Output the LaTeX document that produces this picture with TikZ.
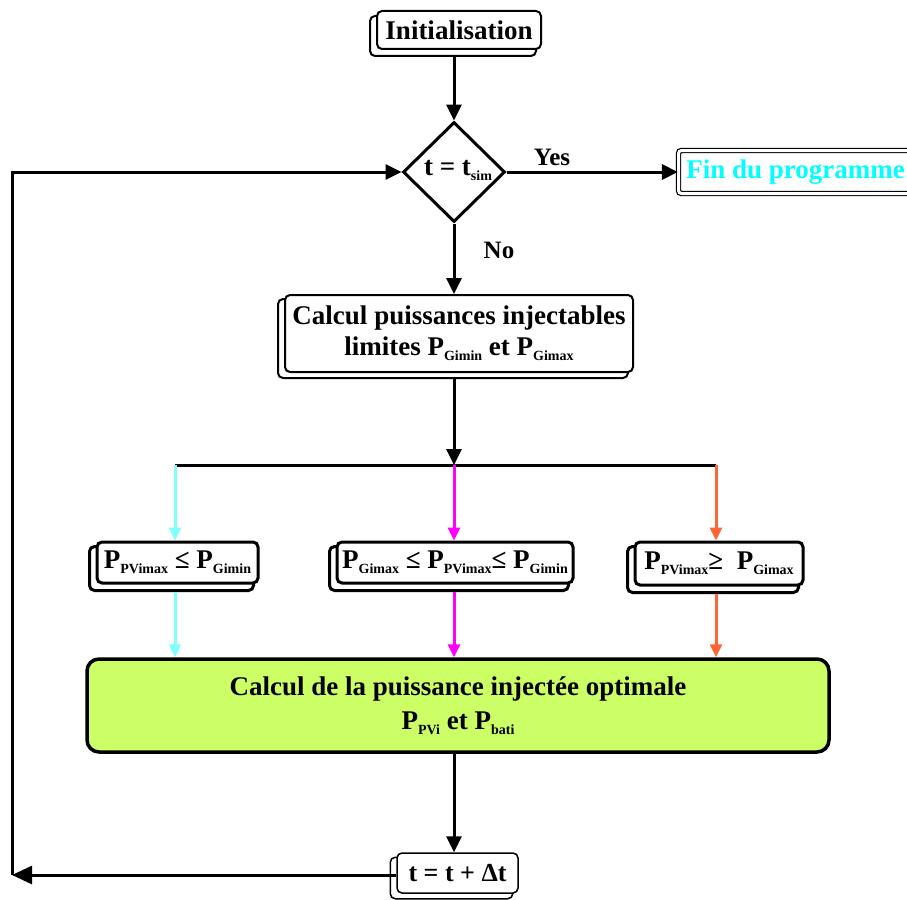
\documentclass[tikz,border=0pt]{standalone}
\usepackage{fontspec}
\setmainfont{Liberation Serif}
\usetikzlibrary{arrows.meta,shapes.geometric,backgrounds}
\definecolor{lcyan}{HTML}{80FFFF}
\definecolor{lmag}{HTML}{FF00FF}
\definecolor{lorange}{HTML}{FF6633}
\definecolor{lgreen}{HTML}{CCFF66}
\definecolor{fincyan}{HTML}{00FFFF}
\newcommand\lowsub[1]{\raisebox{-0.4ex}{\fontsize{14}{14}\selectfont #1}}
\begin{document}
\begin{tikzpicture}[x=1pt,y=-1pt,
  font=\fontsize{27}{31}\selectfont\bfseries,
  box/.style={draw, fill=white, rounded corners=5pt, inner sep=0pt, align=center},
  arr/.style={line width=3pt, -{Triangle[length=16pt,width=15pt]}},
  bigarr/.style={line width=3pt, -{Triangle[length=20pt,width=18pt]}},
  carr/.style={line width=3pt, -{Triangle[length=13pt,width=12pt]}},
  shad/.style={rounded corners=5pt}]
\useasboundingbox (0,0) rectangle (907,899);

% boxes
\node[box, line width=2pt, minimum width=164pt, minimum height=38pt] (init) at (459,30) {Initialisation};
\node[diamond, draw, line width=3pt, fill=white, minimum width=102pt, minimum height=100pt, inner sep=0pt, aspect=1] (dia) at (454,172) {};
\node (diatext) at (458,170) {t = t\lowsub{sim}};
\node (yes) at (552,157) {\fontsize{25}{28}\selectfont Yes};
\node (no) at (499,250) {\fontsize{25}{28}\selectfont No};
\node[draw, line width=1.2pt, double=white, double distance=3pt, rounded corners=3pt,
      minimum width=234pt, minimum height=43pt, inner sep=0pt, text=fincyan] (fin) at (795.5,172) {Fin du programme};
\node[box, line width=2pt, minimum width=348pt, minimum height=77pt] (calc) at (459,333.5)
  {Calcul puissances injectables\\limites P\lowsub{Gimin} et P\lowsub{Gimax}};
\node[box, line width=3pt, minimum width=161pt, minimum height=41pt] (left) at (177.5,562.5)
  {P\lowsub{PVimax} ≤ P\lowsub{Gimin}};
\node[box, line width=3pt, minimum width=236pt, minimum height=41pt] (mid) at (455,562.5)
  {P\lowsub{Gimax} ≤ P\lowsub{PVimax}≤ P\lowsub{Gimin}};
\node[box, line width=3pt, minimum width=168pt, minimum height=43pt] (right) at (719,563.5)
  {P\lowsub{PVimax}≥\ \ P\lowsub{Gimax}};
\node[box, line width=3.5pt, fill=lgreen, rounded corners=12pt, minimum width=742pt, minimum height=93pt] (green) at (458,705.5)
  {Calcul de la puissance injectée optimale\\[3pt]P\lowsub{PVi} et P\lowsub{bati}};
\node[box, line width=1.5pt, minimum width=121pt, minimum height=40pt, font=\fontsize{26}{30}\selectfont\bfseries] (tbox) at (457.5,873) {t = t + Δt};

% shadows
\begin{scope}[on background layer]
\draw[shad, line width=2pt] ([shift={(-6pt,-6pt)}]init.south west) rectangle ([shift={(-6pt,-6pt)}]init.north east);
\draw[shad, line width=2pt] ([shift={(-6pt,-5pt)}]calc.south west) rectangle ([shift={(-6pt,-5pt)}]calc.north east);
\draw[shad, line width=3pt] ([shift={(-6pt,-6pt)}]left.south west) rectangle ([shift={(-6pt,-6pt)}]left.north east);
\draw[shad, line width=3pt] ([shift={(-6pt,-6pt)}]mid.south west) rectangle ([shift={(-6pt,-6pt)}]mid.north east);
\draw[shad, line width=3pt] ([shift={(-6pt,-6pt)}]right.south west) rectangle ([shift={(-6pt,-6pt)}]right.north east);
\draw[shad, line width=1.5pt] ([shift={(-6pt,-5pt)}]tbox.south west) rectangle ([shift={(-6pt,-5pt)}]tbox.north east);
\end{scope}

% coordinates
\coordinate (jc) at (454,465);
\coordinate (jl) at (175,465);
\coordinate (jr) at (716,465);
\coordinate (cl) at (12,875);
\coordinate (cu) at (12,172);

% connectors
\draw[arr] ([yshift=-6pt]init.south -| dia.north) -- (dia.north);
\draw[arr] (dia.east) -- (fin.west);
\draw[arr] (dia.south) -- (calc.north -| dia.south);
\draw[arr] ([yshift=-5pt]calc.south -| jc) -- (jc);
\draw[line width=3pt] (jl) -- (jr);
\draw[carr, lcyan] (jl) -- (jl |- left.north);
\draw[carr, lmag] (jc) -- (jc |- mid.north);
\draw[carr, lorange] (jr) -- (jr |- right.north);
\draw[carr, lcyan] ([yshift=-7pt]jl |- left.south) -- (jl |- green.north);
\draw[carr, lmag] ([yshift=-7pt]jc |- mid.south) -- (jc |- green.north);
\draw[carr, lorange] ([yshift=-7pt]jr |- right.south) -- (jr |- green.north);
\draw[arr] (green.south -| jc) -- (tbox.north -| jc);
\draw[bigarr] (tbox.west |- cl) -- (cl);
\draw[arr] (cl) -- (cu) -- (dia.west);
\end{tikzpicture}
\end{document}
